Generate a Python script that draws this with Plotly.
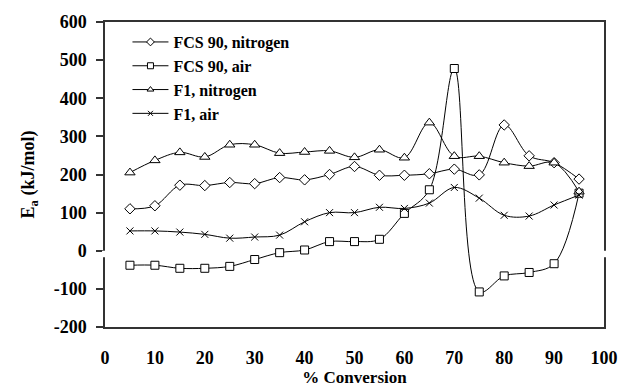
import plotly.graph_objects as go

conversion = [5, 10, 15, 20, 25, 30, 35, 40, 45, 50, 55, 60, 65, 70, 75, 80, 85, 90, 95]

fcs90_nitrogen = [110, 118, 172, 171, 179, 176, 192, 186, 200, 221, 198, 198, 202, 214, 199, 330, 249, 231, 188]
fcs90_air = [-38, -38, -46, -46, -41, -23, -5, 2, 24, 24, 30, 98, 160, 478, -108, -66, -57, -34, 151]
f1_nitrogen = [205, 237, 258, 246, 278, 278, 256, 259, 262, 245, 265, 244, 336, 248, 248, 231, 222, 231, 155]
f1_air = [52, 52, 49, 43, 33, 36, 41, 76, 100, 100, 114, 111, 125, 166, 138, 93, 91, 120, 146]

series_names = ["FCS 90, nitrogen", "FCS 90, air", "F1, nitrogen", "F1, air"]
x_ticks = [0, 10, 20, 30, 40, 50, 60, 70, 80, 90, 100]
y_ticks = [-200, -100, 0, 100, 200, 300, 400, 500, 600]
y_tick_labels = ["-200", "-100", "0", "100", "200", "300", "400", "500", "600"]

FONT = "Liberation Serif"

symbols = ["diamond", "square", "triangle-up", "x-thin"]
sizes = [8, 8, 9, 7]
legend_sizes = [6, 6, 6, 5]
data = [fcs90_nitrogen, fcs90_air, f1_nitrogen, f1_air]

fig = go.Figure()
for name, ys, sym, sz in zip(series_names, data, symbols, sizes):
    fig.add_trace(go.Scatter(
        x=conversion, y=ys, name=name, mode="lines+markers", showlegend=False,
        line=dict(color="black", width=1, shape="spline", smoothing=1),
        marker=dict(symbol=sym, size=sz, color="white",
                    line=dict(color="black", width=1)),
    ))
# legend entries (smaller markers, as in the reference legend)
for name, sym, sz in zip(series_names, symbols, legend_sizes):
    fig.add_trace(go.Scatter(
        x=[None], y=[None], name=name, mode="lines+markers",
        line=dict(color="black", width=1),
        marker=dict(symbol=sym, size=sz, color="white",
                    line=dict(color="black", width=1)),
    ))

axis_line = dict(showline=True, linecolor="#333333", linewidth=1.5, mirror=True,
                 showgrid=False, zeroline=False, automargin=False)

fig.update_layout(
    width=620, height=387,
    margin=dict(l=105, r=16, t=22, b=60),
    paper_bgcolor="white", plot_bgcolor="white",
    font=dict(family=FONT, color="black", size=17, weight="bold"),
    showlegend=True,
    legend=dict(x=0.045, y=0.99, xanchor="left", yanchor="top",
                bgcolor="rgba(0,0,0,0)", itemwidth=36,
                font=dict(family=FONT, size=16, weight="bold"),
                tracegroupgap=0),
    xaxis=dict(range=[0, 100], tickvals=x_ticks, ticks="", ticklabelstandoff=14,
               tickfont=dict(family=FONT, size=18, weight="bold"),
               title=dict(text="% Conversion", standoff=0,
                          font=dict(family=FONT, size=17, weight="bold")),
               **axis_line),
    yaxis=dict(range=[-200, 600], tickvals=y_ticks, ticktext=y_tick_labels,
               ticks="outside", ticklen=7,
               tickcolor="#333333", tickwidth=1.5, ticklabelstandoff=6,
               tickfont=dict(family=FONT, size=18, weight="bold"),
               title=dict(text="E<sub>a</sub> (kJ/mol)", standoff=14,
                          font=dict(family=FONT, size=18, weight="bold")),
               **axis_line),
)

# small gaps in the frame at y = 0 (as in the reference)
for xp in (0, 1):
    fig.add_shape(type="rect", xref="paper", yref="y", x0=xp - 0.006, x1=xp + 0.006,
                  y0=-17, y1=0, fillcolor="white", line=dict(width=0), layer="above")

fig.write_html("out.html")
